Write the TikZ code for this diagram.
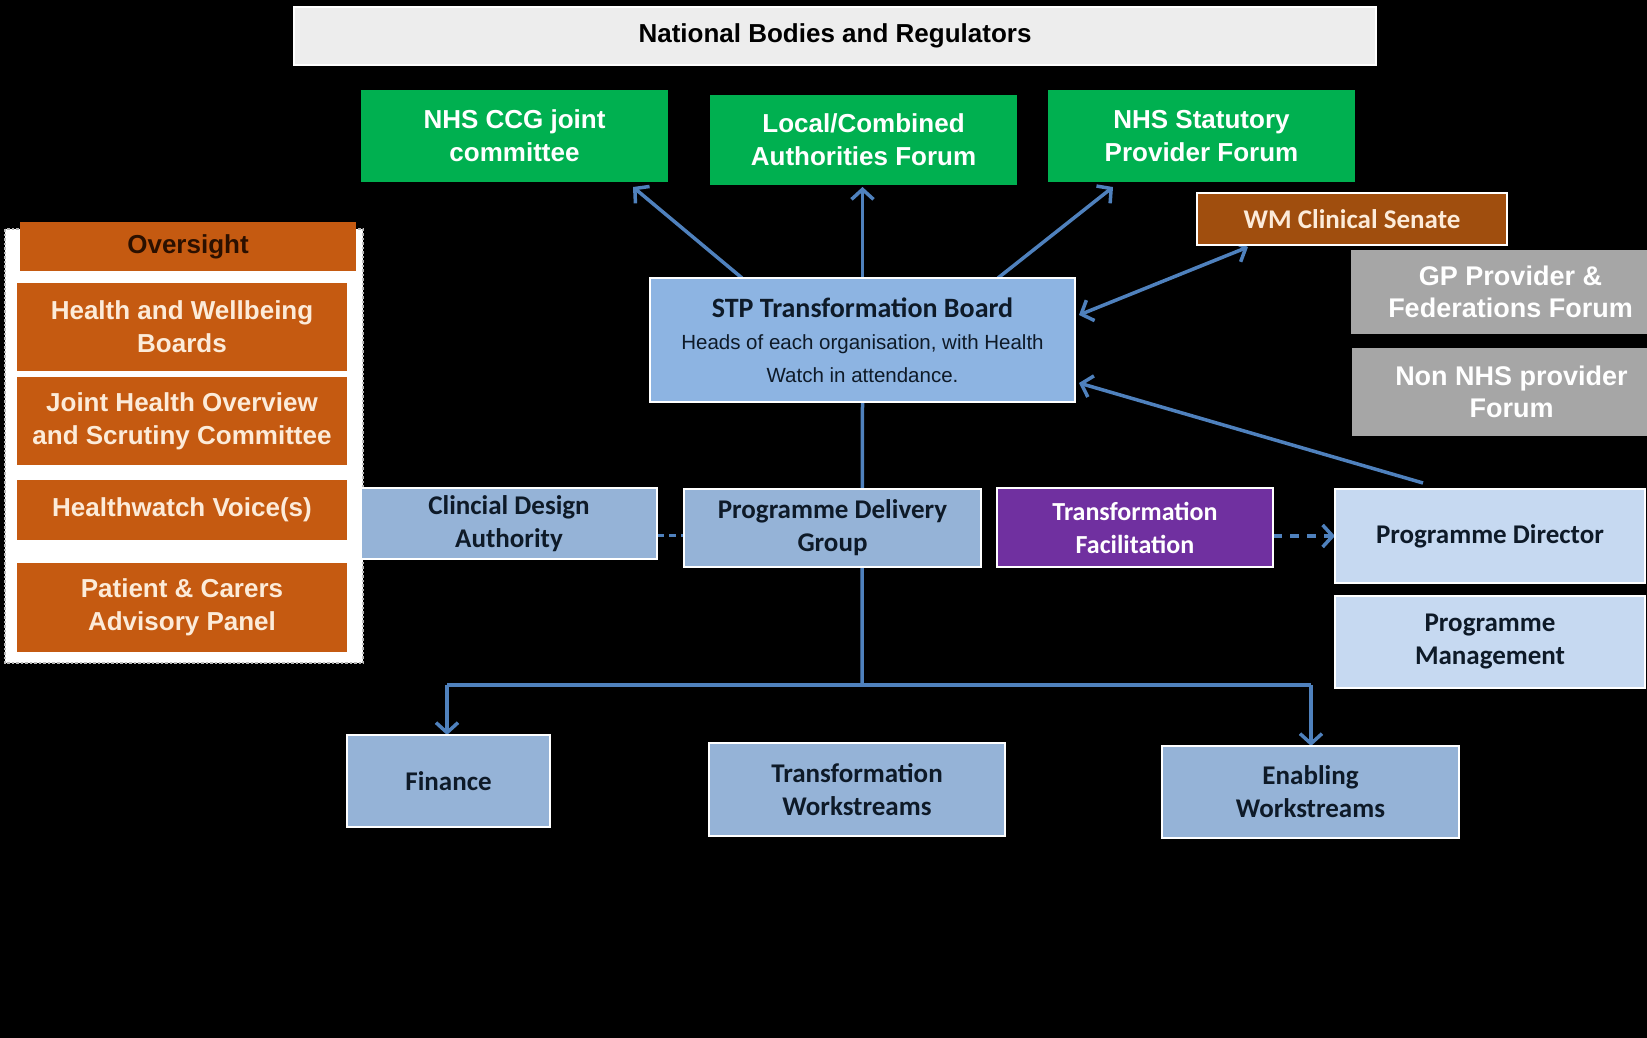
\documentclass[tikz,border=0pt]{standalone}
\usepackage{fontspec}
\setmainfont{Liberation Sans}
\newfontfamily\calfont{Carlito}
\usetikzlibrary{arrows.meta}
\definecolor{natgrey}{HTML}{EDEDED}
\definecolor{nhsgreen}{HTML}{00B050}
\definecolor{wmbrown}{HTML}{A04E0E}
\definecolor{gpgrey}{HTML}{A6A6A6}
\definecolor{ovorange}{HTML}{C55A11}
\definecolor{ovtext}{HTML}{FCEBD9}
\definecolor{ovhead}{HTML}{2B1000}
\definecolor{stpblue}{HTML}{8DB4E2}
\definecolor{midblue}{HTML}{95B3D7}
\definecolor{paleblue}{HTML}{C6D9F1}
\definecolor{tfpurple}{HTML}{7030A0}
\definecolor{linkblue}{HTML}{4F81BD}
\definecolor{darktext}{HTML}{0E1A28}
\pgfdeclarelayer{back}
\pgfdeclarelayer{conn}
\pgfsetlayers{back,conn,main}
\tikzset{
  box/.style={rectangle, draw=white, line width=1.5pt, inner sep=0pt, outer sep=0pt, align=center},
  greenbox/.style={box, draw=none, fill=nhsgreen, text=white, font=\fontsize{26}{33}\selectfont\bfseries, minimum width=307pt},
  orangebox/.style={box, draw=none, fill=ovorange, text=ovtext, font=\fontsize{26}{33}\selectfont\bfseries, minimum width=330pt},
  greybox/.style={box, draw=none, fill=gpgrey, text=white, font=\fontsize{27}{32}\selectfont\bfseries, minimum width=319pt},
  bluebox/.style={box, fill=midblue, text=darktext, font=\calfont\fontsize{27}{33}\selectfont\bfseries},
  palebox/.style={box, fill=paleblue, text=darktext, font=\calfont\fontsize{27}{33}\selectfont\bfseries, minimum width=310pt},
  link/.style={draw=linkblue, line width=3.5pt},
  arr/.style={link, -{Straight Barb[length=10pt,width=22pt]}},
  darr/.style={link, {Straight Barb[length=10pt,width=22pt]}-{Straight Barb[length=10pt,width=22pt]}},
}
\begin{document}
\begin{tikzpicture}[x=1pt,y=-1pt]
\begin{pgfonlayer}{back}
\fill[black] (0,0) rectangle (1647,1038);
\end{pgfonlayer}
\useasboundingbox (0,0) rectangle (1647,1038);

% top
\node[box, fill=natgrey, text=black, font=\fontsize{26}{32}\selectfont\bfseries, minimum width=1082pt, minimum height=58pt] (nat) at (835,36) {National Bodies and Regulators};
\node[greenbox, minimum height=92pt] (ccg) at (514.5,136) {NHS CCG joint\\committee};
\node[greenbox, minimum height=90pt] (lca) at (863.5,140) {Local/Combined\\Authorities Forum};
\node[greenbox, minimum height=92pt] (nsp) at (1201.5,136) {NHS Statutory\\Provider Forum};

\node[box, fill=wmbrown, text=ovtext, font=\calfont\fontsize{27}{32}\selectfont\bfseries, minimum width=310pt, minimum height=52pt] (wm) at (1352,219) {WM Clinical Senate};
\node[greybox, minimum height=84pt] (gp) at (1510.5,292) {GP Provider \&\\Federations Forum};
\node[greybox, minimum height=88pt] (nnp) at (1511.5,392) {Non NHS provider\\Forum};

% STP board
\node[box, fill=stpblue, text=darktext, minimum width=425pt, minimum height=124pt, font=\fontsize{20.5}{32.5}\selectfont] (stp) at (862.5,340)
  {{\calfont\fontsize{28}{32.5}\selectfont\bfseries STP Transformation Board}\\
   Heads of each organisation, with Health\\
   Watch in attendance.};

% oversight panel
\draw[fill=white, draw=gray!55, dotted, line width=2.5pt] (5,229) rectangle (363,663);
\node[orangebox, text=ovhead, minimum width=336pt, minimum height=49pt] (ovs) at (188,246.5) {Oversight};
\node[orangebox, minimum height=88pt] (hwb) at (182,327) {Health and Wellbeing\\Boards};
\node[orangebox, minimum height=88pt] (jho) at (182,421) {Joint Health Overview\\and Scrutiny Committee};
\node[orangebox, minimum height=60pt] (hwv) at (182,510) {Healthwatch Voice(s)};
\node[orangebox, minimum height=89pt] (pcp) at (182,607.5) {Patient \& Carers\\Advisory Panel};

% middle row
\node[bluebox, minimum width=296pt, minimum height=71pt] (cda) at (509,523.5) {Clincial Design\\Authority};
\node[bluebox, minimum width=297pt, minimum height=78pt] (pdg) at (832.5,528) {Programme Delivery\\Group};
\node[box, fill=tfpurple, text=white, font=\calfont\fontsize{26}{33}\selectfont\bfseries, minimum width=276pt, minimum height=79pt] (tf) at (1135,527.5) {Transformation\\Facilitation};
\node[palebox, minimum height=94pt] (pd) at (1490,536) {Programme Director};
\node[palebox, minimum height=92pt] (pm) at (1490,642) {Programme\\Management};

% bottom row
\node[bluebox, minimum width=203pt, minimum height=92pt] (fin) at (448.5,781) {Finance};
\node[bluebox, minimum width=296pt, minimum height=93pt] (tw) at (857,789.5) {Transformation\\Workstreams};
\node[bluebox, minimum width=297pt, minimum height=92pt] (ew) at (1310.5,792) {Enabling\\Workstreams};

\coordinate (hub) at (862,685);
\coordinate (hubL) at (447,685);
\coordinate (hubR) at (1311,685);

\begin{pgfonlayer}{conn}
\draw[arr] ([xshift=92pt]stp.north west) -- ([xshift=-35pt,yshift=-5pt]ccg.south east);
\draw[arr] (stp.north) -- ([yshift=-2pt]stp.north |- lca.south);
\draw[arr] ([xshift=-77pt]stp.north east) -- ([xshift=65pt,yshift=-5pt]nsp.south west);
\draw[darr] ([xshift=4pt,yshift=25pt]stp.east) -- ([xshift=51pt,yshift=-2pt]wm.south west);
\draw[arr] ([xshift=88pt,yshift=6pt]pd.north west) -- ([xshift=4pt,yshift=-43pt]stp.east);
\draw[link] (stp.south) -- (hub);
\draw[link] (hubL) -- (hubR);
\draw[arr] (hubL) -- (hubL |- fin.north);
\draw[arr] (hubR) -- (hubR |- ew.north);
\draw[link, dashed, dash pattern=on 7pt off 5pt] ([yshift=-12pt]cda.east) -- ([yshift=-12pt]cda.east -| pdg.west);
\draw[arr, dash pattern=on 9pt off 8pt] (tf.east |- pd.west) -- (pd.west);
\end{pgfonlayer}
\end{tikzpicture}
\end{document}
